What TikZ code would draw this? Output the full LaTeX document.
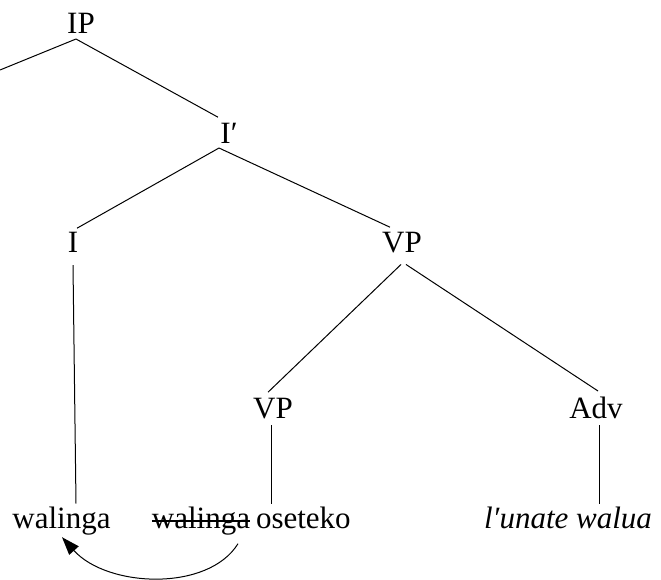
\documentclass[tikz,border=0pt]{standalone}
\usepackage{fontspec}
\setmainfont{Liberation Serif}
\begin{document}
\begin{tikzpicture}[x=1pt,y=-1pt,
  lab/.style={inner sep=0pt, outer sep=0pt, anchor=base, font=\fontsize{31}{31}\selectfont},
  branch/.style={line width=1pt, black}]
\useasboundingbox (0,0) rectangle (661,579);
\node[lab] (IP) at (81,33) {IP};
\node[lab] (Ibar) at (229,143) {I′};
\node[lab] (I) at (73,252) {I};
\node[lab] (VP) at (402,252) {VP};
\node[lab] (VPl) at (273,418) {VP};
\node[lab] (Adv) at (596,418) {Adv};
\node[lab] (w1) at (61.5,528) {walinga};
\node[lab, anchor=base east] (w2) at (250,528) {walinga};
\node[lab, anchor=base west] (os) at (256,528) {oseteko};
\node[lab] (lu) at (568,528) {\itshape l′unate walua};
\coordinate (L) at (0,70);
\draw[branch] ([shift={(-5pt,-6pt)}]IP.south) -- (L);
\draw[branch] ([shift={(-5pt,-6pt)}]IP.south) -- ([shift={(-11pt,5.5pt)}]Ibar.north);
\draw[branch] ([shift={(-10pt,-5pt)}]Ibar.south) -- ([shift={(4pt,3.5pt)}]I.north);
\draw[branch] ([shift={(-10pt,-5pt)}]Ibar.south) -- ([shift={(-12pt,4.5pt)}]VP.north);
\draw[branch] ([shift={(0pt,-13pt)}]I.south) -- ([shift={(14.5pt,3pt)}]w1.north);
\draw[branch] ([shift={(-1pt,-12pt)}]VP.south) -- ([shift={(-5pt,5.5pt)}]VPl.north);
\draw[branch] ([shift={(4pt,-12pt)}]VP.south) -- ([shift={(2pt,5.5pt)}]Adv.north);
\draw[branch] ([shift={(-2pt,-7pt)}]VPl.south) -- ([shift={(15pt,3pt)}]os.north west);
\draw[branch] ([shift={(3pt,-7pt)}]Adv.south) -- ([shift={(31pt,3pt)}]lu.north);
\draw[line width=1.2pt] ([yshift=7pt]w2.base west) -- ([yshift=7pt]w2.base east);
\coordinate (tip) at ([shift={(0.5pt,-2.5pt)}]w1.south);
\coordinate (back) at ([shift={(12,13.4)}]tip);
\draw[branch] ([shift={(-12pt,-9pt)}]w2.south east) .. controls (208,592) and (107.5,587.6) .. (back);
\fill (tip) -- ([shift={(16.8,9.1)}]tip) -- ([shift={(7.2,17.7)}]tip) -- cycle;
\end{tikzpicture}
\end{document}
